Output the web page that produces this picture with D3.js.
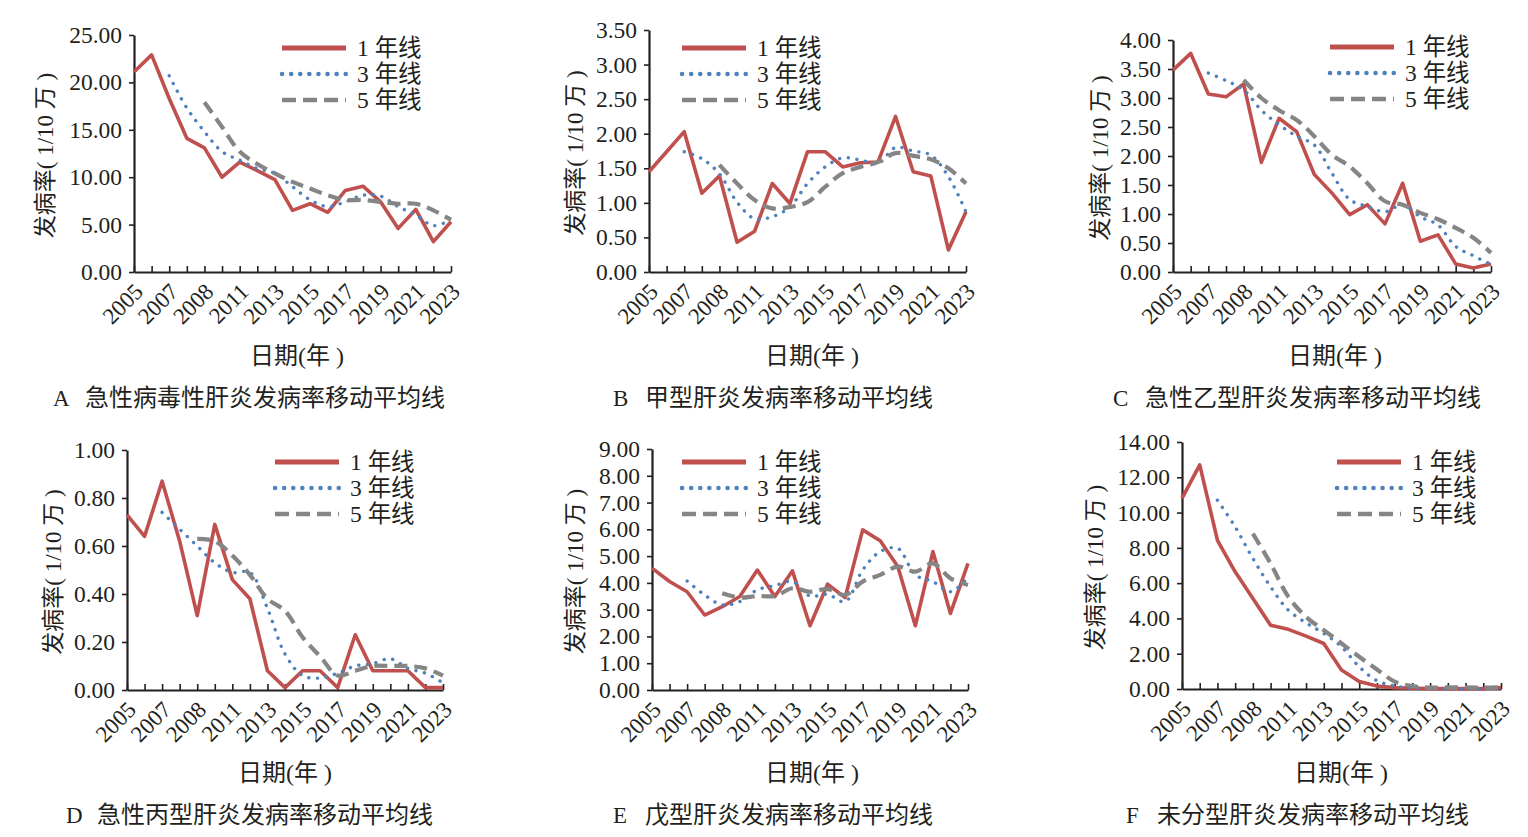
<!DOCTYPE html>
<html>
<head>
<meta charset="utf-8">
<script src="https://cdn.jsdelivr.net/npm/d3@7"></script>
<style>
  body { margin: 0; background: #fff; }
  text { fill: #231f20; }
</style>
</head>
<body>
<div id="graf"></div>
<script>
// Moving averages of hepatitis incidence, 6 panels

// Datos
years = d3.range(2005, 2024)
tickLabels = ['2005', '2007', '2008', '2011', '2013', '2015', '2017', '2019', '2021', '2023']
legendLabels = ['1 年线', '3 年线', '5 年线']

// A 急性病毒性肝炎
viralY1 = [21.1, 22.9, 18.3, 14.1, 13.1, 10.0, 11.6, 10.7, 9.75, 6.5, 7.2, 6.3, 8.6, 9.05, 7.4, 4.6, 6.6, 3.2, 5.3]
viralY3 = [null, null, 20.7, 17.3, 14.8, 12.7, 11.8, 10.9, 10.4, 9.0, 7.6, 6.9, 7.4, 8.1, 8.0, 6.9, 6.0, 4.9, 5.5]
viralY5 = [null, null, null, null, 17.9, 15.3, 12.7, 11.4, 10.4, 9.5, 8.8, 8.1, 7.6, 7.6, 7.4, 7.2, 7.2, 6.5, 5.5]

// B 甲型肝炎
hepAY1 = [1.45, 1.74, 2.03, 1.14, 1.39, 0.43, 0.59, 1.28, 0.99, 1.74, 1.74, 1.52, 1.58, 1.59, 2.25, 1.45, 1.39, 0.32, 0.87]
hepAY3 = [null, null, 1.74, 1.64, 1.42, 1.01, 0.77, 0.80, 0.94, 1.28, 1.52, 1.65, 1.62, 1.57, 1.80, 1.75, 1.69, 1.38, 0.87]
hepAY5 = [null, null, null, null, 1.55, 1.28, 1.04, 0.92, 0.94, 1.01, 1.23, 1.43, 1.52, 1.59, 1.72, 1.68, 1.63, 1.50, 1.28]

// C 急性乙型肝炎
hepBY1 = [3.48, 3.77, 3.07, 3.02, 3.24, 1.89, 2.65, 2.42, 1.68, 1.36, 0.99, 1.16, 0.83, 1.53, 0.53, 0.64, 0.14, 0.07, 0.14]
hepBY3 = [null, null, 3.43, 3.30, 3.14, 2.79, 2.54, 2.34, 2.19, 1.70, 1.25, 1.13, 1.04, 1.16, 0.95, 0.81, 0.44, 0.28, 0.13]
hepBY5 = [null, null, null, null, 3.31, 3.00, 2.79, 2.62, 2.34, 2.02, 1.82, 1.53, 1.22, 1.16, 1.02, 0.91, 0.76, 0.59, 0.33]

// D 急性丙型肝炎
hepCY1 = [0.73, 0.64, 0.87, 0.62, 0.31, 0.69, 0.46, 0.38, 0.08, 0.01, 0.08, 0.08, 0.01, 0.23, 0.08, 0.08, 0.08, 0.01, 0.01]
hepCY3 = [null, null, 0.74, 0.67, 0.60, 0.53, 0.49, 0.49, 0.34, 0.15, 0.06, 0.05, 0.07, 0.10, 0.11, 0.13, 0.09, 0.07, 0.03]
hepCY5 = [null, null, null, null, 0.63, 0.62, 0.56, 0.48, 0.38, 0.33, 0.22, 0.14, 0.06, 0.08, 0.10, 0.10, 0.10, 0.09, 0.06]

// E 戊型肝炎
hepEY1 = [4.55, 4.05, 3.67, 2.80, 3.11, 3.49, 4.48, 3.49, 4.45, 2.40, 3.95, 3.45, 5.98, 5.57, 4.61, 2.40, 5.17, 2.86, 4.73]
hepEY3 = [null, null, 4.07, 3.55, 3.18, 3.30, 3.74, 3.90, 4.05, 3.51, 3.57, 3.30, 4.48, 5.17, 5.29, 4.30, 4.05, 3.67, 4.20]
hepEY5 = [null, null, null, null, 3.61, 3.45, 3.51, 3.51, 3.80, 3.67, 3.77, 3.55, 4.05, 4.30, 4.61, 4.42, 4.73, 4.17, 3.92]

// F 未分型肝炎
untypedY1 = [10.8, 12.7, 8.43, 6.64, 5.13, 3.62, 3.38, 3.00, 2.58, 1.08, 0.42, 0.17, 0.08, 0.04, 0.02, 0.02, 0.02, 0.02, 0.08]
untypedY3 = [null, null, 10.7, 9.19, 7.40, 5.79, 4.47, 3.75, 3.15, 2.40, 1.26, 0.47, 0.17, 0.08, 0.04, 0.02, 0.02, 0.02, 0.04]
untypedY5 = [null, null, null, null, 8.81, 7.11, 5.23, 4.09, 3.34, 2.58, 1.83, 1.11, 0.42, 0.17, 0.08, 0.09, 0.09, 0.08, 0.09]

// Paneles: caja de trazado y posiciones de textos
panels = [
  { tag: 'A', title: '急性病毒性肝炎发病率移动平均线', series: [viralY1, viralY3, viralY5], max: 25, step: 5,
    x0: 134, x1: 451, y0: 272, y1: 35, yt: 45, leg: [282, 48], cap: [53, 85, 406], xt: [297, 364] },
  { tag: 'B', title: '甲型肝炎发病率移动平均线', series: [hepAY1, hepAY3, hepAY5], max: 3.5, step: 0.5,
    x0: 649, x1: 966, y0: 272, y1: 30, yt: 575, leg: [682, 48], cap: [613, 645, 406], xt: [812, 364] },
  { tag: 'C', title: '急性乙型肝炎发病率移动平均线', series: [hepBY1, hepBY3, hepBY5], max: 4, step: 0.5,
    x0: 1173, x1: 1491, y0: 272, y1: 40, yt: 1100, leg: [1330, 47], cap: [1113, 1145, 406], xt: [1335, 364] },
  { tag: 'D', title: '急性丙型肝炎发病率移动平均线', series: [hepCY1, hepCY3, hepCY5], max: 1, step: 0.2,
    x0: 127, x1: 443, y0: 690, y1: 450, yt: 53, leg: [275, 462], cap: [66, 97, 823], xt: [285, 781] },
  { tag: 'E', title: '戊型肝炎发病率移动平均线', series: [hepEY1, hepEY3, hepEY5], max: 9, step: 1,
    x0: 652, x1: 968, y0: 690, y1: 449, yt: 575, leg: [682, 462], cap: [613, 645, 823], xt: [812, 781] },
  { tag: 'F', title: '未分型肝炎发病率移动平均线', series: [untypedY1, untypedY3, untypedY5], max: 14, step: 2,
    x0: 1182, x1: 1501, y0: 689, y1: 442, yt: 1095, leg: [1337, 462], cap: [1126, 1157, 823], xt: [1341, 781] }
]

fuente = '"Liberation Serif", "Noto Sans CJK SC", serif'
cjk = '"Noto Sans CJK SC", sans-serif'

estilos = [
  { color: '#c0504d', width: 3.6, dash: null, cap: 'butt' },
  { color: '#4f81bd', width: 3.4, dash: '0.1 8.6', cap: 'round' },
  { color: '#858585', width: 4.2, dash: '13 7', cap: 'butt' }
]

svg = d3.select('#graf').append('svg')
        .attr('width', 1528)
        .attr('height', 837)
        .style('display', 'block')

panels.forEach(p => drawPanel(p))

function drawPanel(p) {
  g = svg.append('g')

  x = d3.scalePoint().domain(years).range([p.x0, p.x1])
  y = d3.scaleLinear().domain([0, p.max]).range([p.y0, p.y1])

  // Eje X: marcas hacia dentro, etiquetas cada dos años
  xAxis = d3.axisBottom(x)
            .tickSizeInner(-6)
            .tickSizeOuter(0)
            .tickFormat((d, i) => i % 2 == 0 ? tickLabels[i / 2] : '')

  gx = g.append('g')
        .attr('transform', `translate(0,${p.y0})`)
        .call(xAxis)
  gx.select('.domain').attr('stroke', '#231f20').attr('stroke-width', 2.2)
  gx.selectAll('.tick line').attr('stroke', '#231f20').attr('stroke-width', 1.6)
  gx.selectAll('.tick text')
    .attr('font-family', fuente)
    .attr('font-size', '23px')
    .attr('fill', '#231f20')
    .attr('text-anchor', 'end')
    .attr('dy', null)
    .attr('y', null)
    .attr('transform', 'translate(10,21) rotate(-45)')

  // Eje Y
  yAxis = d3.axisLeft(y)
            .tickValues(d3.range(0, p.max + p.step / 2, p.step))
            .tickFormat(d3.format('.2f'))
            .tickSizeInner(5)
            .tickSizeOuter(0)
            .tickPadding(7)

  gy = g.append('g')
        .attr('transform', `translate(${p.x0},0)`)
        .call(yAxis)
  gy.select('.domain').attr('stroke', '#231f20').attr('stroke-width', 2.2)
  gy.selectAll('.tick line').attr('stroke', '#231f20').attr('stroke-width', 1.6)
  gy.selectAll('.tick text')
    .attr('font-family', fuente)
    .attr('font-size', '23.5px')
    .attr('fill', '#231f20')

  // Líneas
  p.series.forEach((s, k) => {
    linea = d3.line()
              .defined(d => d != null)
              .x((d, i) => x(years[i]))
              .y(d => y(d))
              .curve(k == 0 ? d3.curveLinear : d3.curveCatmullRom.alpha(0.5))
    g.append('path')
      .datum(s)
      .attr('d', linea)
      .attr('fill', 'none')
      .attr('stroke', estilos[k].color)
      .attr('stroke-width', estilos[k].width)
      .attr('stroke-dasharray', estilos[k].dash)
      .attr('stroke-linecap', estilos[k].cap)
      .attr('stroke-linejoin', 'round')
  })

  // Leyenda
  legendLabels.forEach((t, k) => {
    ly = p.leg[1] + k * 26
    g.append('line')
      .attr('x1', p.leg[0])
      .attr('x2', p.leg[0] + 64)
      .attr('y1', ly)
      .attr('y2', ly)
      .attr('stroke', estilos[k].color)
      .attr('stroke-width', k == 0 ? 5 : 4.5)
      .attr('stroke-dasharray', k == 1 ? '0.1 9' : (k == 2 ? '14 7' : null))
      .attr('stroke-linecap', estilos[k].cap)
    g.append('text')
      .attr('x', p.leg[0] + 75)
      .attr('y', ly + 8)
      .attr('font-family', fuente)
      .attr('font-size', '23.5px')
      .text(t)
  })

  // Título eje Y
  g.append('text')
    .attr('transform', `translate(${p.yt},${(p.y0 + p.y1) / 2 + 2}) rotate(-90)`)
    .attr('text-anchor', 'middle')
    .attr('dominant-baseline', 'central')
    .attr('font-family', fuente)
    .attr('font-size', '23px')
    .text('发病率( 1/10 万 )')

  // Título eje X
  g.append('text')
    .attr('x', p.xt[0])
    .attr('y', p.xt[1])
    .attr('text-anchor', 'middle')
    .attr('font-family', fuente)
    .attr('font-size', '24px')
    .text('日期(年 )')

  // Pie de panel
  g.append('text')
    .attr('x', p.cap[0])
    .attr('y', p.cap[2])
    .attr('font-family', fuente)
    .attr('font-size', '23px')
    .text(p.tag)
  g.append('text')
    .attr('x', p.cap[1])
    .attr('y', p.cap[2])
    .attr('font-family', cjk)
    .attr('font-size', '24px')
    .text(p.title)
}
</script>
</body>
</html>
